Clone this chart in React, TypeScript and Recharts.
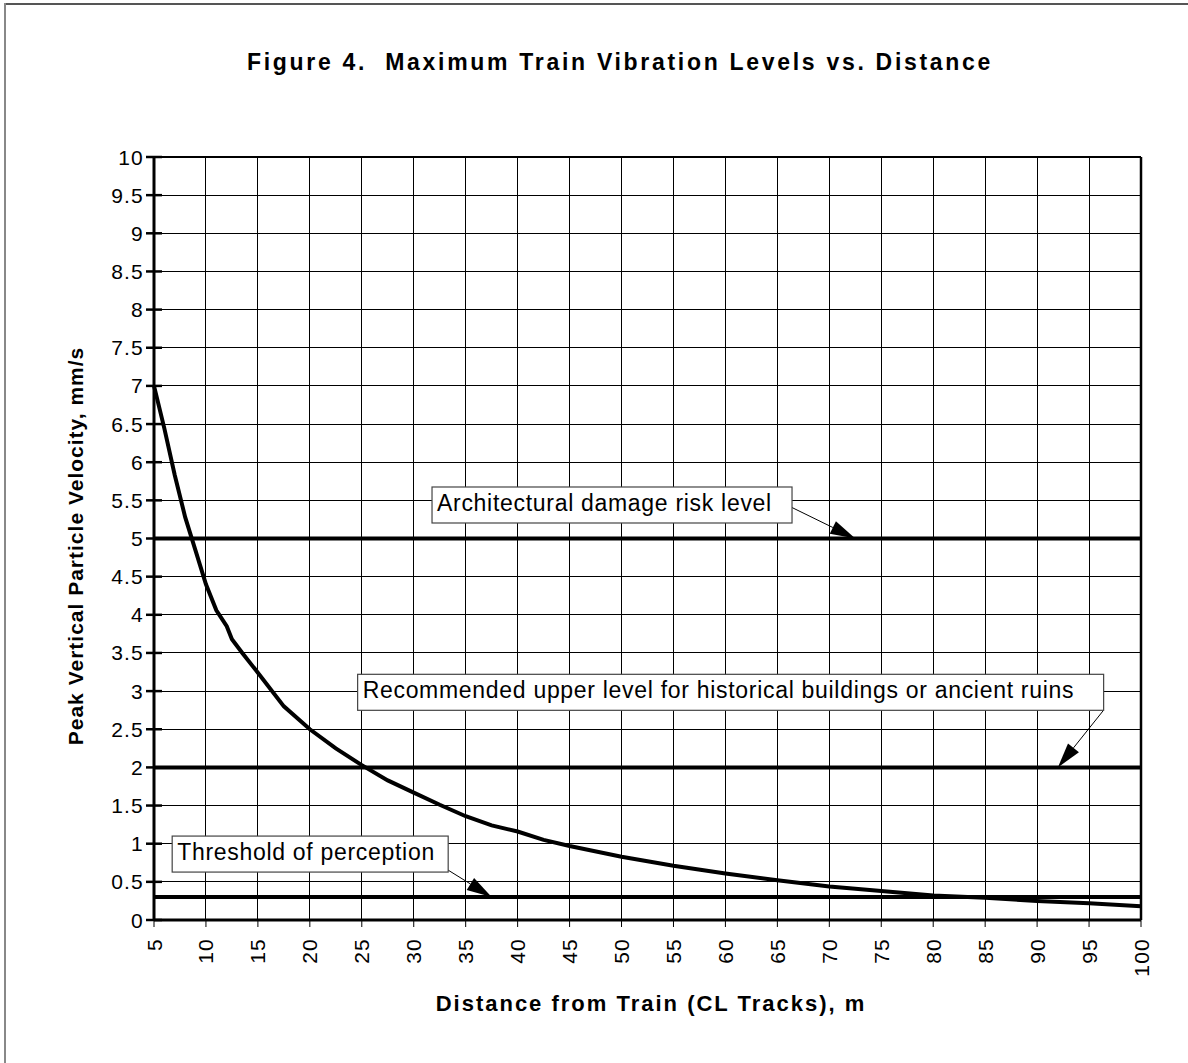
import React from "react";
import {
  LineChart,
  Line,
  XAxis,
  YAxis,
  CartesianGrid,
  ReferenceLine,
  ReferenceDot,
} from "recharts";

// distance from the track centre line (m) and peak vertical particle velocity (mm/s)
const distance = [5, 6, 7, 8, 9, 10, 11, 12, 12.5, 13.5, 15, 17.5, 20, 22.5, 25, 27.5, 30, 32.5, 35, 37.5, 40, 42.5, 45, 50, 55, 60, 65, 70, 75, 80, 85, 90, 95, 100];
const velocity = [7.0, 6.44, 5.83, 5.28, 4.84, 4.4, 4.06, 3.85, 3.68, 3.5, 3.24, 2.8, 2.5, 2.25, 2.03, 1.83, 1.67, 1.51, 1.36, 1.24, 1.16, 1.05, 0.97, 0.83, 0.71, 0.61, 0.52, 0.44, 0.38, 0.32, 0.29, 0.25, 0.22, 0.18];

const xTicks = [5, 10, 15, 20, 25, 30, 35, 40, 45, 50, 55, 60, 65, 70, 75, 80, 85, 90, 95, 100];
const yTicks = [0, 0.5, 1, 1.5, 2, 2.5, 3, 3.5, 4, 4.5, 5, 5.5, 6, 6.5, 7, 7.5, 8, 8.5, 9, 9.5, 10];

// criteria levels and their notes
const criteriaLevels = [5, 2, 0.3];
const noteText = [
  "Architectural damage risk level",
  "Recommended upper level for historical buildings or ancient ruins",
  "Threshold of perception",
];
const noteAnchorX = [31.76, 24.6, 6.75];
const noteAnchorY = [5.675, 3.22, 1.1];
const arrowFromX = [66.2, 96.4, 33.0];
const arrowFromY = [5.42, 2.75, 0.68];
const arrowToX = [72.5, 92, 37.5];

const noteBoxWidth = [360, 746, 276];
const FONT = "'Liberation Sans', Arial, sans-serif";

const data = distance.map((d, i) => ({ d, v: velocity[i] }));

function XTick({ x, y, payload }: any) {
  return (
    <text
      x={x}
      y={y}
      transform={`rotate(-90 ${x} ${y})`}
      textAnchor="end"
      dominantBaseline="central"
      fontSize={21}
      letterSpacing={1.2}
      fontFamily={FONT}
      fill="#000"
    >
      {payload.value}
    </text>
  );
}

function YTick({ x, y, payload }: any) {
  return (
    <g>
      <line x1={x + 3} x2={x + 19} y1={y} y2={y} stroke="#000" strokeWidth={2.5} />
      <text
        x={x + 1}
        y={y}
        textAnchor="end"
        dominantBaseline="central"
        fontSize={21}
        letterSpacing={1.2}
        fontFamily={FONT}
        fill="#000"
      >
        {payload.value}
      </text>
    </g>
  );
}

function noteBox(i: number) {
  return (props: any) => {
    const { cx, cy } = props;
    return (
      <g>
        <rect x={cx} y={cy} width={noteBoxWidth[i]} height={36} fill="#fff" stroke="#444" strokeWidth={1.2} />
        <text x={cx + 5} y={cy + 24} fontSize={23} letterSpacing={0.7} fontFamily={FONT} fill="#000">
          {noteText[i]}
        </text>
      </g>
    );
  };
}

function Arrow(props: any) {
  const { x1, y1, x2, y2 } = props;
  const dx = x2 - x1;
  const dy = y2 - y1;
  const len = Math.sqrt(dx * dx + dy * dy);
  const ux = dx / len;
  const uy = dy / len;
  const hl = 25;
  const hw = 7;
  const bx = x2 - ux * hl;
  const by = y2 - uy * hl;
  const pts = `${x2},${y2} ${bx - uy * hw},${by + ux * hw} ${bx + uy * hw},${by - ux * hw}`;
  return (
    <g>
      <line x1={x1} y1={y1} x2={bx} y2={by} stroke="#000" strokeWidth={1} />
      <polygon points={pts} fill="#000" />
    </g>
  );
}

export default function App() {
  return (
    <div style={{ position: "absolute", left: 0, top: 0, width: 1188, height: 1063, background: "#fff", fontFamily: FONT }}>
      <div style={{ position: "absolute", left: 4, top: 3, width: 1184, height: 2, background: "#555" }} />
      <div style={{ position: "absolute", left: 4, top: 3, width: 2, height: 1060, background: "#888" }} />
      <div
        style={{
          position: "absolute",
          left: 0,
          width: 1240,
          top: 49,
          textAlign: "center",
          fontSize: 23,
          fontWeight: "bold",
          letterSpacing: 2.7,
          whiteSpace: "pre",
        }}
      >
        {"Figure 4.  Maximum Train Vibration Levels vs. Distance"}
      </div>
      <div
        style={{
          position: "absolute",
          left: 76,
          top: 546,
          transform: "translate(-50%, -50%) rotate(-90deg)",
          fontSize: 21,
          fontWeight: "bold",
          letterSpacing: 1,
          whiteSpace: "nowrap",
        }}
      >
        Peak Vertical Particle Velocity, mm/s
      </div>
      <div
        style={{
          position: "absolute",
          left: 0,
          width: 1302,
          top: 991,
          textAlign: "center",
          fontSize: 22,
          fontWeight: "bold",
          letterSpacing: 2,
          whiteSpace: "nowrap",
        }}
      >
        Distance from Train (CL Tracks), m
      </div>
      <div style={{ position: "absolute", left: 0, top: 0 }}>
        <LineChart width={1188} height={1063} data={data} margin={{ top: 157, right: 47, left: 94, bottom: 83 }}>
          <CartesianGrid stroke="#000" strokeWidth={1} shapeRendering="crispEdges" />
          <XAxis
            dataKey="d"
            type="number"
            domain={[5, 100]}
            ticks={xTicks}
            interval={0}
            height={60}
            tickSize={7}
            tickMargin={11}
            tick={<XTick />}
            axisLine={{ stroke: "#000", strokeWidth: 3 }}
            tickLine={{ stroke: "#000", strokeWidth: 1 }}
          />
          <YAxis
            type="number"
            domain={[0, 10]}
            ticks={yTicks}
            interval={0}
            width={60}
            tickSize={8}
            tickMargin={3}
            tick={<YTick />}
            tickLine={false}
            axisLine={{ stroke: "#000", strokeWidth: 3 }}
          />
          <ReferenceLine y={10} stroke="#000" strokeWidth={2} />
          <ReferenceLine x={100} stroke="#000" strokeWidth={2.5} />
          {criteriaLevels.map((lv) => (
            <ReferenceLine key={`lv${lv}`} y={lv} stroke="#000" strokeWidth={4} />
          ))}
          <Line
            type="linear"
            dataKey="v"
            stroke="#000"
            strokeWidth={4}
            dot={false}
            activeDot={false}
            isAnimationActive={false}
          />
          {criteriaLevels.map((lv, i) => (
            <ReferenceLine
              key={`ar${i}`}
              segment={[
                { x: arrowFromX[i], y: arrowFromY[i] },
                { x: arrowToX[i], y: lv },
              ]}
              shape={<Arrow />}
            />
          ))}
          {criteriaLevels.map((lv, i) => (
            <ReferenceDot key={`nb${i}`} x={noteAnchorX[i]} y={noteAnchorY[i]} r={0} shape={noteBox(i)} />
          ))}
        </LineChart>
      </div>
    </div>
  );
}
